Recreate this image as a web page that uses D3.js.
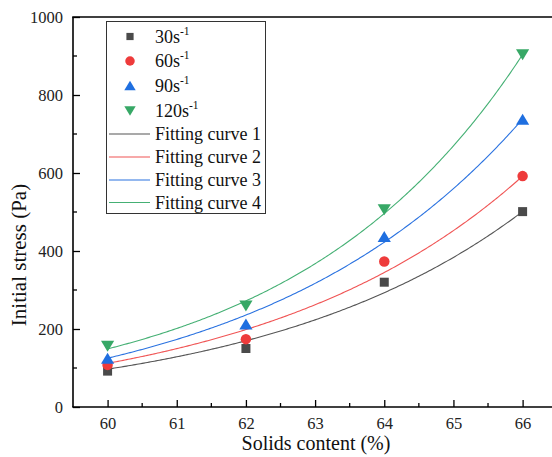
<!DOCTYPE html>
<html>
<head>
<meta charset="utf-8">
<script src="https://cdn.jsdelivr.net/npm/d3@7"></script>
<style>
  html, body { margin: 0; padding: 0; background: #fff; }
  svg, svg text { font-family: "Liberation Serif", "Times New Roman", serif; }
  svg { display: block; }
</style>
</head>
<body>
<svg id="chart" width="552" height="457"></svg>
<script>
// Solids content (%) at which stress was measured
const solids = [60, 62, 64, 66];

// Shear-rate series (label, measured initial stress in Pa)
const seriesNames = ["30", "60", "90", "120"];
const stress30 = [92, 150, 320, 501];
const stress60 = [108, 174, 373, 592];
const stress90 = [125, 213, 437, 738];
const stress120 = [156, 259, 506, 903];

// Exponential fits: y = y0 + A * exp(B * (x - 60))
const fitNames = ["Fitting curve 1", "Fitting curve 2", "Fitting curve 3", "Fitting curve 4"];
const fitY0 = [-8.6, -13.4, -35, -1];
const fitA = [105.6, 125.4, 160.2, 150];
const fitB = [0.2624, 0.2624, 0.2624, 0.2995];

// Axis ticks
const xTicks = [60, 61, 62, 63, 64, 65, 66];
const xMinor = [60.5, 61.5, 62.5, 63.5, 64.5, 65.5];
const yTicks = [0, 200, 400, 600, 800, 1000];
const yMinor = [100, 300, 500, 700, 900];

const markerColors = ["#4a4a4a", "#ee3b3b", "#1f6fe0", "#37a866"];
const lineColors = ["#555555", "#f05555", "#2a72e0", "#45b074"];
const shapes = ["square", "circle", "up", "down"];
const allStress = [stress30, stress60, stress90, stress120];

const FONT = "Liberation Serif, Times New Roman, serif";
const svg = d3.select("#chart");
const plotLeft = 73, plotTop = 17, plotBottom = 407;

const x = d3.scaleLinear().domain([59.5, 66.5]).range([plotLeft, plotLeft + 7 * 69.17]);
const y = d3.scaleLinear().domain([0, 1000]).range([plotBottom, plotTop]);

// Marker path generator centred on the bounding box
function markerPath(shape, s) {
  if (shape === "square") {
    const h = s * 0.45;
    return `M${-h},${-h}H${h}V${h}H${-h}Z`;
  }
  if (shape === "circle") {
    const r = s * 0.5;
    return `M${r},0A${r},${r} 0 1,1 ${-r},0A${r},${r} 0 1,1 ${r},0Z`;
  }
  const w = s * 0.6, h = s * 0.5;
  if (shape === "up") return `M0,${-h}L${w},${h}L${-w},${h}Z`;
  return `M0,${h}L${w},${-h}L${-w},${-h}Z`;
}

// Fitted curves
const curveXs = d3.range(0, 241).map(i => 60 + i * 6 / 240);
fitNames.forEach((name, i) => {
  const line = d3.line()
    .x(d => x(d))
    .y(d => y(fitY0[i] + fitA[i] * Math.exp(fitB[i] * (d - 60))));
  svg.append("path")
    .datum(curveXs)
    .attr("d", line)
    .attr("fill", "none")
    .attr("stroke", lineColors[i])
    .attr("stroke-width", 1.1);
});

// Measured points
allStress.forEach((vals, i) => {
  svg.append("g").selectAll("path")
    .data(vals)
    .join("path")
    .attr("transform", (d, j) => `translate(${x(solids[j])},${y(d)})`)
    .attr("d", markerPath(shapes[i], shapes[i] === "circle" ? 10.5 : (shapes[i] === "square" ? 10 : 11)))
    .attr("fill", markerColors[i]);
});

// Axes
const xAxis = d3.axisBottom(x).tickValues(xTicks).tickSize(-7).tickPadding(10).tickFormat(d3.format("d"));
const gx = svg.append("g").attr("transform", `translate(0,${plotBottom})`).call(xAxis)
  .attr("font-family", FONT);
gx.select(".domain").remove();
gx.selectAll(".tick line").attr("stroke", "#000").attr("stroke-width", 1.3);
gx.selectAll(".tick text").attr("font-size", 16.5).attr("fill", "#222");
gx.selectAll(".minor").data(xMinor).join("line")
  .attr("class", "minor")
  .attr("x1", d => x(d)).attr("x2", d => x(d))
  .attr("y1", 0).attr("y2", -4)
  .attr("stroke", "#000").attr("stroke-width", 1.3);

const yAxis = d3.axisLeft(y).tickValues(yTicks).tickSize(-7).tickPadding(10).tickFormat(d3.format("d"));
const gy = svg.append("g").attr("transform", `translate(${plotLeft},0)`).call(yAxis)
  .attr("font-family", FONT);
gy.select(".domain").remove();
gy.selectAll(".tick line").attr("stroke", "#000").attr("stroke-width", 1.3);
gy.selectAll(".tick text").attr("font-size", 16.5).attr("fill", "#222");
gy.selectAll(".minor").data(yMinor).join("line")
  .attr("class", "minor")
  .attr("x1", 0).attr("x2", 4)
  .attr("y1", d => y(d)).attr("y2", d => y(d))
  .attr("stroke", "#000").attr("stroke-width", 1.3);

// Frame lines: left, bottom, top
svg.append("line").attr("x1", plotLeft).attr("x2", plotLeft).attr("y1", plotTop).attr("y2", plotBottom)
  .attr("stroke", "#000").attr("stroke-width", 1.6);
svg.append("line").attr("x1", plotLeft - 0.8).attr("x2", 552).attr("y1", plotBottom).attr("y2", plotBottom)
  .attr("stroke", "#000").attr("stroke-width", 1.6);
svg.append("line").attr("x1", plotLeft - 0.8).attr("x2", 552).attr("y1", plotTop).attr("y2", plotTop)
  .attr("stroke", "#000").attr("stroke-width", 1.6);

// Axis titles
svg.append("text")
  .attr("x", 316).attr("y", 450)
  .attr("text-anchor", "middle").attr("font-size", 20).attr("fill", "#111")
  .attr("font-family", FONT)
  .text("Solids content (%)");
svg.append("text")
  .attr("transform", "translate(26,255) rotate(-90)")
  .attr("text-anchor", "middle").attr("font-size", 21).attr("fill", "#111")
  .attr("font-family", FONT)
  .text("Initial stress (Pa)");

// Legend
const lg = svg.append("g").attr("font-family", FONT);
lg.append("rect")
  .attr("x", 106.5).attr("y", 21.5).attr("width", 159).attr("height", 192)
  .attr("fill", "#fff").attr("stroke", "#333").attr("stroke-width", 1);

const symRows = [36.5, 61, 85.5, 111];
seriesNames.forEach((name, i) => {
  lg.append("path")
    .attr("transform", `translate(130,${symRows[i]})`)
    .attr("d", markerPath(shapes[i], shapes[i] === "square" ? 8 : 9.5))
    .attr("fill", markerColors[i]);
  const t = lg.append("text")
    .attr("x", 155).attr("y", symRows[i] + 6)
    .attr("font-size", 18).attr("fill", "#111");
  t.append("tspan").text(name + "s");
  t.append("tspan").attr("dy", -8).attr("font-size", 11.5).text("-1");
});

const lineRows = [134, 157, 180, 202.5];
fitNames.forEach((name, i) => {
  lg.append("line")
    .attr("x1", 109).attr("x2", 150)
    .attr("y1", lineRows[i]).attr("y2", lineRows[i])
    .attr("stroke", lineColors[i]).attr("stroke-width", 1.1);
  lg.append("text")
    .attr("x", 155).attr("y", lineRows[i] + 6)
    .attr("font-size", 18).attr("fill", "#111")
    .text(name);
});
</script>
</body>
</html>
